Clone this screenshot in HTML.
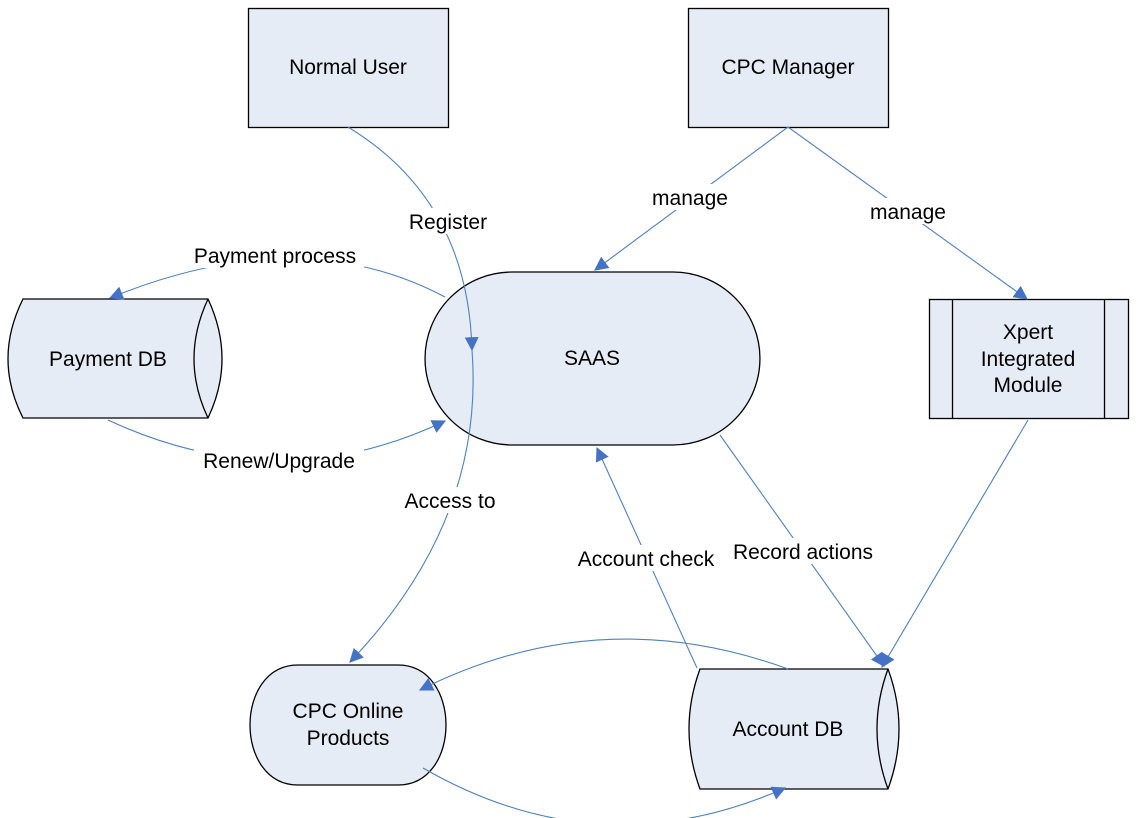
<!DOCTYPE html>
<html><head><style>
html,body{margin:0;padding:0;background:#fff;}
svg{display:block;}
text{font-family:"Liberation Sans",sans-serif;font-size:21px;fill:#000;}
</style></head><body>
<svg width="1138" height="818" viewBox="0 0 1138 818" xmlns="http://www.w3.org/2000/svg">
<defs>
<marker id="a" viewBox="0 0 12 12" refX="11" refY="6" markerWidth="14" markerHeight="14" markerUnits="userSpaceOnUse" orient="auto">
<path d="M0,0 L12,6 L0,12 Z" fill="#4472C4"/>
</marker>
</defs>
<g fill="#E6ECF6" stroke="#000" stroke-width="1.3">
<rect x="248.5" y="8.5" width="200" height="119"/>
<rect x="688.5" y="8.5" width="200" height="119"/>
<path d="M512,272 H673 A87,86.5 0 0 1 673,445 H512 A87,86.5 0 0 1 512,272 Z"/>
<path d="M23,299 H208 Q236,359 208,418 H23 Q-7,359 23,299 Z"/>
<path d="M208,299 Q180,359 208,418" fill="none"/>
<rect x="929.5" y="299.5" width="199" height="119"/>
<line x1="952.5" y1="299.5" x2="952.5" y2="418.5"/>
<line x1="1104.5" y1="299.5" x2="1104.5" y2="418.5"/>
<path d="M298,665 H398 C462,665 462,785 398,785 H298 C234,785 234,665 298,665 Z"/>
<path d="M700,669 H888 Q910,729 888,789 H700 Q678,729 700,669 Z"/>
<path d="M888,669 Q866,729 888,789" fill="none"/>
</g>
<g fill="none" stroke="#4F81BD" stroke-width="1.1" marker-end="url(#a)">
<path d="M348,127 Q468,200 472,350"/>
<path d="M472,350 Q485,520 350,662"/>
<path d="M445,297 Q300,220 110,298"/>
<path d="M108,420 Q280,500 445,421"/>
<path d="M788,127 L595,270"/>
<path d="M788,127 L1027,299"/>
<path d="M1028,420 L882,667"/>
<path d="M720,435 L884,666"/>
<path d="M697,668 L597,448"/>
<path d="M788,669 Q600,600 420,690"/>
<path d="M423,768 Q600,870 785,788"/>
</g>
<g>
<text x="348" y="74" text-anchor="middle">Normal User</text>
<text x="788" y="74" text-anchor="middle">CPC Manager</text>
<text x="592" y="365" text-anchor="middle">SAAS</text>
<text x="108" y="366" text-anchor="middle">Payment DB</text>
<text x="1028" y="339" text-anchor="middle">Xpert</text>
<text x="1028" y="366" text-anchor="middle">Integrated</text>
<text x="1028" y="392" text-anchor="middle">Module</text>
<text x="348" y="718" text-anchor="middle">CPC Online</text>
<text x="348" y="745" text-anchor="middle">Products</text>
<text x="788" y="736" text-anchor="middle">Account DB</text>
</g>
<g>
<rect x="402" y="208" width="92" height="26" fill="#fff"/>
<text x="448" y="229" text-anchor="middle">Register</text>
<rect x="186" y="242" width="178" height="26" fill="#fff"/>
<text x="275" y="263" text-anchor="middle">Payment process</text>
<rect x="194" y="447" width="170" height="26" fill="#fff"/>
<text x="279" y="468" text-anchor="middle">Renew/Upgrade</text>
<rect x="646" y="184" width="88" height="26" fill="#fff"/>
<text x="690" y="205" text-anchor="middle">manage</text>
<rect x="864" y="198" width="88" height="26" fill="#fff"/>
<text x="908" y="219" text-anchor="middle">manage</text>
<rect x="397" y="487" width="106" height="26" fill="#fff"/>
<text x="450" y="508" text-anchor="middle">Access to</text>
<rect x="570" y="545" width="152" height="26" fill="#fff"/>
<text x="646" y="566" text-anchor="middle">Account check</text>
<rect x="726" y="538" width="156" height="26" fill="#fff"/>
<text x="803" y="559" text-anchor="middle">Record actions</text>
</g>
</svg>
</body></html>
